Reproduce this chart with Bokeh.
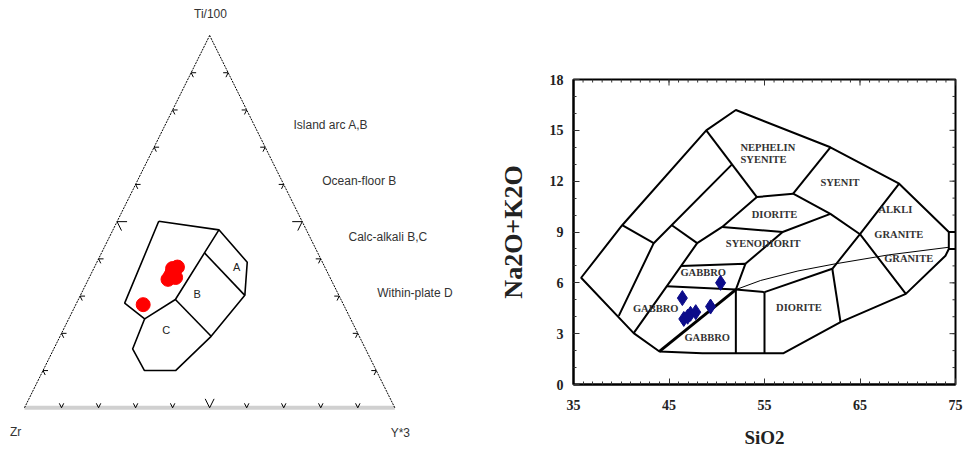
import math
from bokeh.plotting import figure
from bokeh.layouts import row
from bokeh.models import Range1d, FixedTicker
from bokeh.core.properties import value
from bokeh.embed import file_html
from bokeh.resources import INLINE

# ---------------- Ternary data (Ti/100, Zr, Y*3 in %) ----------------
tick_fracs = [0.1, 0.2, 0.3, 0.4, 0.5, 0.6, 0.7, 0.8, 0.9]

# outer field envelope (Ti, Zr, Y3)
env_ti = [50.1, 47.8, 39.1, 30.2, 19.2, 10.0, 10.0, 15.8, 23.9, 28.1, 50.1]
env_zr = [38.7, 23.6, 20.3, 25.4, 40.0, 54.2, 62.6, 62.9, 55.6, 58.9, 38.7]
env_y3 = [11.2, 28.6, 40.6, 44.4, 40.8, 35.8, 27.4, 21.3, 20.5, 13.0, 11.2]

# internal boundaries
dab_ti = [47.8, 41.6, 29.1, 23.9]
dab_zr = [23.6, 30.6, 44.7, 55.6]
dab_y3 = [28.6, 27.8, 26.2, 20.5]
ab_ti = [41.6, 30.2]
ab_zr = [30.6, 25.4]
ab_y3 = [27.8, 44.4]
bc_ti = [29.1, 19.2]
bc_zr = [44.7, 40.0]
bc_y3 = [26.2, 40.8]

field_names = ["D", "A", "B", "C"]
field_ti = [37.8, 37.8, 30.6, 20.8]
field_zr = [39.8, 23.8, 38.1, 51.3]
field_y3 = [22.4, 38.4, 31.3, 27.9]

# samples (red)
samp_ti = [35.5, 37.8, 35.0, 34.5, 37.4, 36.3, 27.7]
samp_zr = [42.8, 39.8, 41.7, 44.0, 41.3, 42.0, 54.1]
samp_y3 = [21.7, 22.4, 23.3, 21.5, 21.3, 21.7, 18.2]

legend_lines = ["Island arc A,B", "Ocean-floor B", "Calc-alkali B,C", "Within-plate D"]
apex_labels = ["Ti/100", "Zr", "Y*3"]

# ---------------- TAS data ----------------
x_ticks = [35, 45, 55, 65, 75]
y_ticks = [0, 3, 6, 9, 12, 15, 18]
x_minor = list(range(35, 76))
y_minor = list(range(0, 19))

outer_x = [74.3, 69.1, 61.9, 52.0, 48.9, 40.1, 35.8, 41.3, 44.0, 48.5, 57.0, 62.96, 69.8, 73.95, 74.3, 74.3]
outer_y = [9.0, 11.85, 14.0, 16.2, 15.0, 9.4, 6.3, 3.03, 1.95, 1.85, 1.85, 3.68, 5.35, 7.6, 8.0, 9.0]

field_lines = [
    ([74.3, 75.0], [9.0, 9.0]),
    ([74.3, 75.0], [8.0, 8.0]),
    ([39.74, 43.4, 51.6], [4.05, 8.34, 12.99]),
    ([41.3, 47.95, 50.57, 54.2], [3.03, 8.34, 9.3, 11.06]),
    ([40.1, 43.4], [9.4, 8.34]),
    ([45.3, 47.95], [9.4, 8.34]),
    ([48.9, 54.2], [15.0, 11.06]),
    ([54.2, 58.0], [11.06, 11.26]),
    ([58.0, 61.9], [11.26, 14.0]),
    ([58.0, 61.9, 65.0, 69.8], [11.26, 10.07, 8.87, 5.35]),
    ([69.1, 65.0, 62.1], [11.85, 8.87, 6.83]),
    ([50.57, 56.9, 61.9], [9.3, 9.0, 10.07]),
    ([56.9, 53.0], [9.0, 7.12]),
    ([46.27, 53.0, 52.0], [7.0, 7.12, 5.6]),
    ([44.77, 52.0], [5.8, 5.6]),
    ([52.0, 52.0], [5.6, 1.85]),
    ([52.0, 55.0], [5.6, 5.45]),
    ([55.0, 55.0], [5.45, 1.85]),
    ([55.0, 62.1], [5.45, 6.83]),
    ([62.1, 62.96], [6.83, 3.68]),
]
diag_x = [44.0, 52.0]
diag_y = [1.95, 5.6]
thin_x = [52.0, 54.6, 58.5, 62.4, 68.0, 74.3]
thin_y = [5.6, 6.14, 6.7, 7.12, 7.65, 8.1]

tas_labels = ["NEPHELIN", "SYENITE", "SYENIT", "DIORITE", "SYENODIORIT", "GABBRO",
              "GABBRO", "GABBRO", "DIORITE", "ALKLI", "GRANITE", "GRANITE"]
tas_lab_x = [55.35, 54.9, 62.9, 56.05, 54.86, 48.58, 43.6, 49.0, 58.6, 68.7, 69.07, 70.1]
tas_lab_y = [14.0, 13.26, 11.9, 10.03, 8.34, 6.63, 4.5, 2.76, 4.52, 10.31, 8.85, 7.42]

sio2 = [50.4, 46.4, 49.35, 46.55, 47.25, 47.8, 46.95]
alk = [6.0, 5.1, 4.6, 3.87, 4.17, 4.27, 4.0]


def tern(ti, zr, y3):
    us, vs = [], []
    for a, b, c in zip(ti, zr, y3):
        s = a + b + c
        t, y = a / s, c / s
        us.append(y + t / 2.0)
        vs.append(t)
    return us, vs


def no_align(p):
    if "frame_align" in p.properties():
        p.frame_align = False


# ---------------- Left: ternary ----------------
p1 = figure(width=488, height=451, x_range=Range1d(-0.0648, 1.2530), y_range=Range1d(-0.1174, 1.0940),
            x_axis_type=None, y_axis_type=None, toolbar_location=None, output_backend="svg",
            min_border=0)
p1.outline_line_color = None
p1.grid.visible = False
no_align(p1)

p1.line([0, 1], [0, 0], line_color="#d0d0d0", line_width=4)
p1.line([0, 0.5], [0, 1], line_color="black", line_width=1, line_dash="2 1")
p1.line([1, 0.5], [0, 1], line_color="black", line_width=1, line_dash="2 1")

txs, tys = [], []
for f in tick_fracs:
    big = abs(f - 0.5) < 1e-9
    d = 0.024 if big else 0.012
    du = 0.027 if big else 0.0135
    txs += [[f - d / 2, f, f + d / 2]]
    tys += [[d, 0, d]]
    lu, lv = f / 2, f
    txs += [[lu + du, lu, lu + d / 2]]
    tys += [[lv, lv, lv - d]]
    ru, rv = 1 - f / 2, f
    txs += [[ru - du, ru, ru - d / 2]]
    tys += [[rv, rv, rv - d]]
p1.multi_line(txs, tys, line_color="black", line_width=1)

eu, ev = tern(env_ti, env_zr, env_y3)
p1.line(eu, ev, line_color="black", line_width=1.6)
for a, b, c in [(dab_ti, dab_zr, dab_y3), (ab_ti, ab_zr, ab_y3), (bc_ti, bc_zr, bc_y3)]:
    uu, vv = tern(a, b, c)
    p1.line(uu, vv, line_color="black", line_width=1.6)

fu, fv = tern(field_ti, field_zr, field_y3)
p1.text(fu, fv, text=field_names, text_font=value("Liberation Sans"), text_font_size="11px",
        text_align="center", text_baseline="middle", text_color="#222")

su, sv = tern(samp_ti, samp_zr, samp_y3)
p1.scatter(su, sv, size=14, fill_color="#ff0000", line_color="#ff0000")

p1.text([0.7264, 0.804, 0.875, 0.9525], [0.7583, 0.6105, 0.460, 0.3078], text=legend_lines,
        text_font=value("Liberation Sans"), text_font_size="12px", text_align="left",
        text_baseline="middle", text_color="#333")
p1.text([0.5023, -0.024, 1.015], [1.059, -0.066, -0.069], text=apex_labels,
        text_font=value("Liberation Sans"), text_font_size="12px", text_align="center",
        text_baseline="middle", text_color="#333")

# ---------------- Right: TAS ----------------
p2 = figure(width=480, height=451, x_range=Range1d(35, 75), y_range=Range1d(0, 18),
            toolbar_location=None, output_backend="svg",
            min_border_left=85, min_border_right=13, min_border_top=79, min_border_bottom=67)
p2.grid.visible = False
p2.outline_line_color = "black"
p2.outline_line_width = 2
no_align(p2)

xt = FixedTicker(ticks=x_ticks, minor_ticks=x_minor)
yt = FixedTicker(ticks=y_ticks, minor_ticks=y_minor)


def style_axis(ax):
    ax.axis_line_width = 2
    ax.axis_line_color = "black"
    ax.major_tick_in = 6
    ax.major_tick_out = 0
    ax.minor_tick_in = 3
    ax.minor_tick_out = 0
    ax.major_tick_line_color = "#333"
    ax.minor_tick_line_color = "#333"
    ax.major_label_text_font = "Liberation Serif"
    ax.major_label_text_font_style = "bold"
    ax.major_label_text_font_size = "14px"
    ax.major_label_text_color = "#222"
    ax.axis_label_text_font = "Liberation Serif"
    ax.axis_label_text_font_style = "bold"
    ax.axis_label_text_color = "#222"


xa = p2.xaxis[0]
xa.ticker = xt
style_axis(xa)
xa.major_label_standoff = 15
xa.axis_label = "SiO2"
xa.axis_label_text_font_size = "19px"
xa.axis_label_standoff = 14

ya = p2.yaxis[0]
ya.ticker = yt
style_axis(ya)
ya.major_label_standoff = 10
ya.axis_label = "Na2O+K2O"
ya.axis_label_text_font_size = "26px"
ya.axis_label_standoff = 19

# mirrored inward ticks on top and right edges
p2.ray(x=x_minor, y=[18] * len(x_minor), length=3, length_units="screen", angle=-math.pi / 2,
       line_color="#333", line_width=1)
p2.ray(x=x_ticks, y=[18] * len(x_ticks), length=6, length_units="screen", angle=-math.pi / 2,
       line_color="#333", line_width=1)
p2.ray(x=[75] * len(y_minor), y=y_minor, length=3, length_units="screen", angle=math.pi,
       line_color="#333", line_width=1)
p2.ray(x=[75] * len(y_ticks), y=y_ticks, length=6, length_units="screen", angle=math.pi,
       line_color="#333", line_width=1)

p2.line(outer_x, outer_y, line_color="black", line_width=2)
p2.multi_line([fl[0] for fl in field_lines], [fl[1] for fl in field_lines],
              line_color="black", line_width=2)
p2.line(diag_x, diag_y, line_color="black", line_width=3)
p2.line(thin_x, thin_y, line_color="black", line_width=1)

p2.text(tas_lab_x, tas_lab_y, text=tas_labels, text_font=value("Liberation Serif"),
        text_font_style="bold", text_font_size="10.5px", text_align="center",
        text_baseline="middle", text_color="#333")

p2.scatter(sio2, alk, marker="diamond", size=15, fill_color="#0c0c8a", line_color="#0c0c8a")

layout = row(p1, p2)
open("out.html", "w").write(file_html(layout, INLINE))
